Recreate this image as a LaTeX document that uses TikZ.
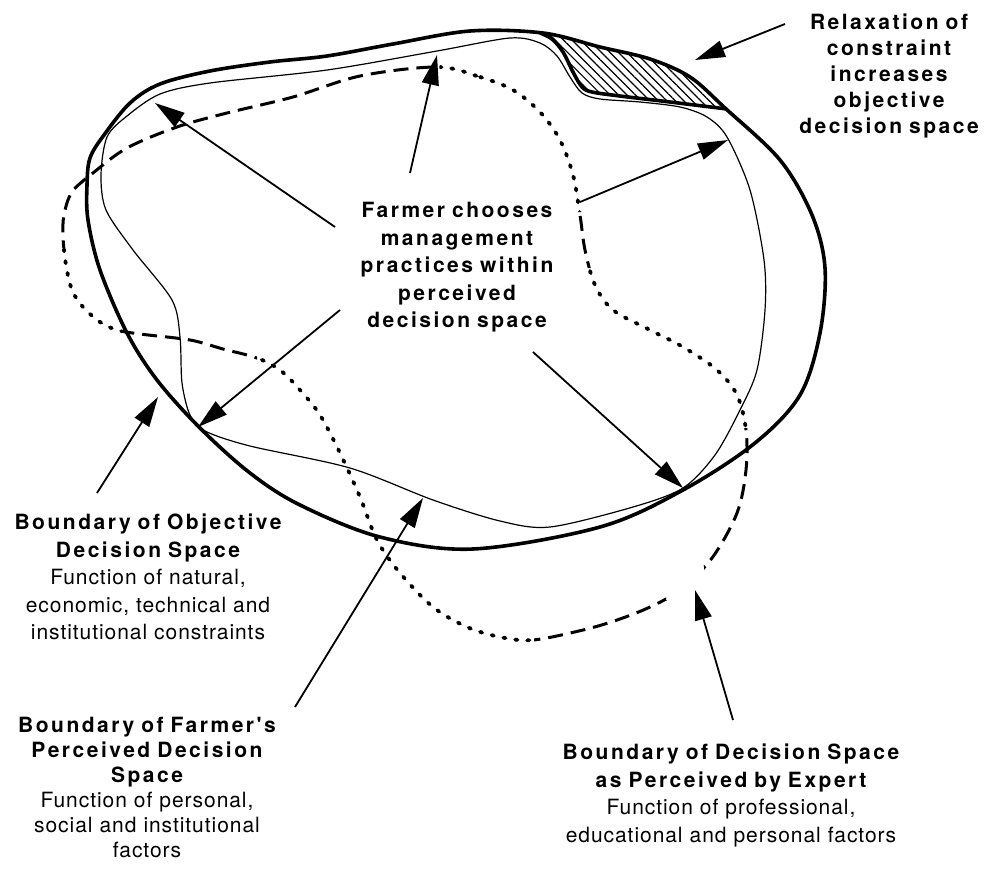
\documentclass[tikz,border=0pt]{standalone}
\usepackage{fontspec}
\setmainfont{TeX Gyre Heros}
\newfontfamily\headfont[LetterSpace=12]{TeX Gyre Heros}
\newfontfamily\bodyfont[LetterSpace=4.5]{TeX Gyre Heros}
\usetikzlibrary{arrows.meta,patterns.meta}

% Boundary of the objective decision space (after relaxation)
\def\objcurve{plot[smooth cycle, tension=0.55] coordinates {
  (87,185) (90,158) (104,135) (130,103) (160,84) (210,71) (270,62) (327,56)
  (393,44) (470,31) (543,33) (600,47) (650,59) (690,77) (725,108) (780,160)
  (812,215) (825,268) (820,333) (800,395) (755,443) (683,490) (600,527)
  (473,549) (380,537) (300,505) (250,473) (200,428) (157,380) (127,333)
  (100,270) (88,220)}}

% Boundary of the decision space as perceived by the expert
\def\expertcurve{plot[smooth cycle, tension=0.55] coordinates {
  (437,67) (480,77) (513,90) (540,112) (560,140) (573,175) (580,215) (585,250)
  (595,285) (613,310) (650,330) (683,347) (717,370) (737,395) (746,430)
  (746,470) (737,513) (712,558) (680,590) (650,607) (617,620) (583,630)
  (533,640) (500,637) (467,627) (433,607) (400,573) (377,540) (360,497)
  (340,453) (320,415) (300,390) (280,370) (257,358) (223,349) (190,340)
  (140,334) (117,330) (100,322) (83,307) (72,290) (66,265) (63,237) (64,215)
  (72,192) (93,173) (127,148) (177,127) (227,113) (293,97) (360,76)}}

% Boundary of the farmer's perceived decision space
\def\farmercurve{plot[smooth cycle, tension=0.5] coordinates {
  (101,175) (107,137) (127,116) (160,94) (210,83) (327,70) (437,51) (510,38)
  (540,43) (557,56) (570,77) (582,93) (600,99) (640,102) (680,107) (707,117)
  (727,137) (750,190) (764,260) (765,310) (757,370) (740,410) (715,455)
  (683,488) (633,507) (550,527) (500,521) (433,500) (350,468) (250,446)
  (205,431) (190,415) (182,383) (180,337) (172,300) (133,250) (106,210)}}

\begin{document}
\begin{tikzpicture}[x=1pt, y=-1pt,
  objline/.style={line width=3.6pt, line join=round},
  farmline/.style={line width=1.2pt},
  expdash/.style={line width=3pt, dash pattern=on 15pt off 8pt},
  expdot/.style={line width=3.8pt, line cap=round, dash pattern=on 2.2pt off 9.8pt},
  ptr/.style={line width=1.8pt, -{Triangle[length=30pt,width=17pt]}},
  hatch/.style={pattern={Lines[angle=-45,distance=6pt,line width=1.2pt]}},
  textblock/.style={text width=#1, align=center, inner sep=0pt, anchor=north,
    font=\fontsize{21}{27.5}\selectfont}
]
\useasboundingbox (0,0) rectangle (984,868);
\fill[white] (0,0) rectangle (984,868);

% hatched gain from relaxing the constraint
\begin{scope}
  \clip \objcurve;
  \fill[hatch] (540,0) -- plot[smooth, tension=0.55] coordinates {
    (540,33) (552,39) (563,52) (573,72) (582,87) (592,92) (620,96) (670,102) (727,109)}
    -- (760,100) -- (760,0) -- cycle;
\end{scope}

% objective boundary, with the former constraint line
\draw[objline] \objcurve;
\draw[objline] plot[smooth, tension=0.55] coordinates {
  (540,33) (552,39) (563,52) (573,72) (582,87) (592,92) (620,96) (670,102) (727,109)};

% farmer's perceived boundary
\draw[farmline] \farmercurve;

% expert boundary: dotted stretches
\begin{scope}
  \clip (440,40) rectangle (615,212)
        (585,268) rectangle (770,428)
        (257,300) rectangle (534,680)
        (40,248) rectangle (122,350);
  \draw[expdot] \expertcurve;
\end{scope}
% expert boundary: dashed stretches (everything outside the dotted boxes)
\begin{scope}
  \clip (0,0) -- (984,0) -- (984,868) -- (0,868) -- cycle
        (440,40) -- (440,212) -- (615,212) -- (615,40) -- cycle
        (585,268) -- (585,428) -- (770,428) -- (770,268) -- cycle
        (257,300) -- (257,680) -- (534,680) -- (534,300) -- cycle
        (40,248) -- (40,350) -- (122,350) -- (122,248) -- cycle
        (666,566) -- (666,600) -- (704,600) -- (704,566) -- cycle;
  \draw[expdash] \expertcurve;
\end{scope}

% labels
\node[textblock=220pt, font=\fontsize{21}{26}\selectfont] (relax) at (889,14)
  {\headfont\bfseries Relaxation of\\constraint\\increases\\objective\\decision space};
\node[textblock=260pt] (choose) at (457,202)
  {\headfont\bfseries Farmer chooses\\management\\practices within\\perceived\\decision space};
\node[textblock=300pt] (objective) at (148,514)
  {\headfont\bfseries Boundary of Objective\\Decision Space\\
   \bodyfont\mdseries Function of natural,\\economic, technical and\\institutional constraints};
\node[textblock=300pt, font=\fontsize{21}{25}\selectfont] (farmer) at (147,717)
  {\headfont\bfseries Boundary of Farmer's\\Perceived Decision\\Space\\
   \bodyfont\mdseries Function of personal,\\social and institutional\\factors};
\node[textblock=380pt] (expert) at (731,744)
  {\headfont\bfseries Boundary of Decision Space\\as Perceived by Expert\\
   \bodyfont\mdseries Function of professional,\\educational and personal factors};

% arrow ends
\coordinate (relaxTail) at (785,24);   \coordinate (relaxTip) at (695,60);
\coordinate (objTail) at (97,493);     \coordinate (objTip) at (158,397);
\coordinate (farmTail) at (295,707);   \coordinate (farmTip) at (423,498);
\coordinate (expTail) at (733,720);    \coordinate (expTip) at (695,590);
\coordinate (chA) at (335,227);        \coordinate (chAtip) at (155,103);
\coordinate (chB) at (410,173);        \coordinate (chBtip) at (437,55);
\coordinate (chC) at (580,202);        \coordinate (chCtip) at (728,140);
\coordinate (chD) at (340,310);        \coordinate (chDtip) at (198,427);
\coordinate (chE) at (533,352);        \coordinate (chEtip) at (683,488);

\draw[ptr] (relaxTail) -- (relaxTip);
\draw[ptr] (objTail) -- (objTip);
\draw[ptr] (farmTail) -- (farmTip);
\draw[ptr] (expTail) -- (expTip);
\draw[ptr] (chA) -- (chAtip);
\draw[ptr] (chB) -- (chBtip);
\draw[ptr] (chC) -- (chCtip);
\draw[ptr] (chD) -- (chDtip);
\draw[ptr] (chE) -- (chEtip);
\end{tikzpicture}
\end{document}
